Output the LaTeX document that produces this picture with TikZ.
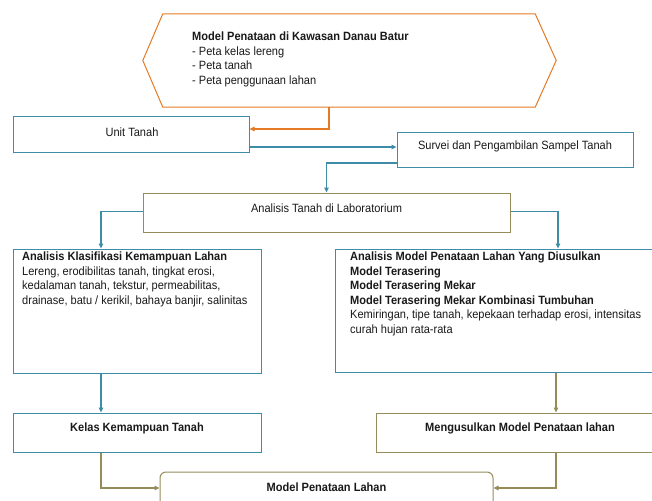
\documentclass[tikz,border=0pt]{standalone}
\usepackage{fontspec}
\setmainfont{Liberation Sans}[FakeStretch=0.92]
\usetikzlibrary{arrows.meta,calc}
\definecolor{teal1}{RGB}{62,140,165}
\definecolor{orng}{RGB}{228,122,36}
\definecolor{olv}{RGB}{150,140,90}
\definecolor{ink}{RGB}{25,25,25}
\begin{document}
\begin{tikzpicture}[x=1pt,y=-1pt,
  box/.style={draw=teal1,line width=1pt,rectangle,inner sep=0pt},
  obox/.style={draw=olv,line width=1pt,rectangle,inner sep=0pt},
  conn/.style={line width=1.1pt,-{Triangle[length=5pt,width=4.5pt]}},
  txt/.style={font=\fontsize{12}{14.5}\selectfont,inner sep=0pt,align=left,text=ink},
]
\useasboundingbox (0,0) rectangle (652,500);

% hexagon
\node[inner sep=0pt,minimum width=372pt,minimum height=93pt] (hex) at (349,60.5) {};
\draw[orng,line width=1pt] (hex.north west) -- (hex.north east) -- ([xshift=21pt]hex.east)
  -- (hex.south east) -- (hex.south west) -- ([xshift=-20pt]hex.west) -- cycle;
\node[txt,anchor=north west] (hextxt) at (192,32) {\textbf{Model Penataan di Kawasan Danau Batur}\\- Peta kelas lereng\\- Peta tanah\\- Peta penggunaan lahan};

% boxes
\node[box,minimum width=236pt,minimum height=36pt] (unit) at (131,134) {};
\node[txt] (unittxt) at (132,132) {Unit Tanah};

\node[box,minimum width=236pt,minimum height=35pt] (survei) at (515,149.5) {};
\node[txt] (surveitxt) at (515,146) {Survei dan Pengambilan Sampel Tanah};

\node[obox,minimum width=367pt,minimum height=39pt] (lab) at (326.5,212.5) {};
\node[txt] (labtxt) at (326.5,208) {Analisis Tanah di Laboratorium};

\node[box,minimum width=248pt,minimum height=124pt] (leftbox) at (137,311) {};
\node[txt,anchor=north west] (lefttxt) at (22,252) {\textbf{Analisis Klasifikasi Kemampuan Lahan}\\Lereng, erodibilitas tanah, tingkat erosi,\\kedalaman tanah, tekstur, permeabilitas,\\drainase, batu / kerikil, bahaya banjir, salinitas};

\node[box,minimum width=327pt,minimum height=123pt] (rightbox) at (498.5,310.5) {};
\node[txt,anchor=north west] (righttxt) at (350,252) {\textbf{Analisis Model Penataan Lahan Yang Diusulkan}\\\textbf{Model Terasering}\\\textbf{Model Terasering Mekar}\\\textbf{Model Terasering Mekar Kombinasi Tumbuhan}\\Kemiringan, tipe tanah, kepekaan terhadap erosi, intensitas\\curah hujan rata-rata};

\node[box,minimum width=248pt,minimum height=39pt] (kelas) at (137,432.5) {};
\node[txt] (kelastxt) at (137,428) {\textbf{Kelas Kemampuan Tanah}};

\node[obox,minimum width=286pt,minimum height=39pt] (meng) at (519,432.5) {};
\node[txt] (mengtxt) at (520,428) {\textbf{Mengusulkan Model Penataan lahan}};

\node[obox,rounded corners=6pt,minimum width=333pt,minimum height=53pt] (model) at (326.5,498.5) {};
\node[txt] (modeltxt) at (326.5,487) {\textbf{Model Penataan Lahan}};

% connectors
\draw[conn,orng] ([xshift=-20pt]hex.south) |- ([yshift=5pt]unit.east);
\draw[conn,teal1] ([yshift=-13pt]unit.east) -- ([yshift=-13pt]unit.east -| survei.west);
\draw[conn,teal1] ([yshift=-13.5pt]survei.west) -| (lab.north);
\draw[conn,teal1] ([yshift=1pt]lab.west) -| ([xshift=-36pt]leftbox.north);
\draw[conn,teal1] ([yshift=1pt]lab.east) -| ([xshift=59.5pt]rightbox.north);
\draw[conn,teal1] ([xshift=-36pt]leftbox.south) -- ([xshift=-36pt]kelas.north);
\draw[conn,olv] ([xshift=57.5pt]rightbox.south) -- ([xshift=37pt]meng.north);
\draw[conn,olv] ([xshift=37pt]meng.south) |- ([yshift=10.5pt]model.east);
\draw[conn,olv] ([xshift=-36pt]kelas.south) |- ([yshift=10.5pt]model.west);
\end{tikzpicture}
\end{document}
